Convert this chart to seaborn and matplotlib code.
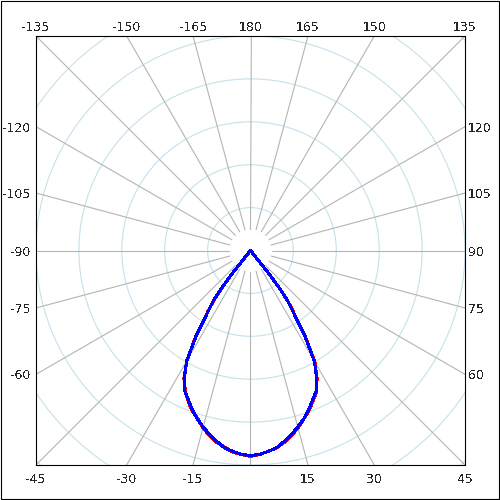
import numpy as np
import pandas as pd
import matplotlib
matplotlib.use("Agg")
import matplotlib.pyplot as plt
from matplotlib.patches import Circle, Rectangle
import seaborn as sns

# gamma angles (deg) from nadir, left half negative
gamma = [-90, -40, -38.5, -37.5, -36.5, -35, -32.5, -30, -27.5, -25, -22.5, -20, -17.5,
         -15, -12.5, -10, -7.5, -5, -2.5, 0, 2.5, 5, 7.5, 10, 12.5, 15, 17.5, 20,
         22.5, 25, 27.5, 30, 32.5, 35, 36.5, 37.5, 38.5, 40, 90]
# intensities (one ring = 50)
c0_c180 = [0, 0, 35, 55, 71, 86, 119, 148, 168, 180, 190, 199, 205,
           214, 221, 227, 231, 236, 238, 240, 238, 235, 232, 227, 221, 214, 206, 199,
           190, 182, 168, 150, 119, 86, 73, 56, 35, 0, 0]
c90_c270 = [0, 0, 35, 56, 72, 85, 118, 149, 167, 181, 189, 198, 206,
            213, 220, 226, 232, 235, 238, 239, 238, 235, 232, 226, 220, 213, 206, 198,
            189, 181, 167, 149, 118, 85, 72, 56, 35, 0, 0]

bottom_labels = [-45, -30, -15, 15, 30, 45]
top_labels = [-135, -150, -165, 180, 165, 150, 135]
left_labels = [-120, -105, -90, -75, -60]
right_labels = [120, 105, 90, 75, 60]

ring_step = 50
n_rings = 7
spoke_step = 15
box = 250

sns.set_style("white")
plt.rcParams["font.family"] = ["DejaVu Sans"]
plt.rcParams["text.antialiased"] = False

fig = plt.figure(figsize=(5, 5), dpi=100)
ax = fig.add_axes([0.072, 0.07, 0.858, 0.858])
ax.set_xlim(-box, box)
ax.set_ylim(-box, box)

# rings
for i in range(1, n_rings + 1):
    ax.add_patch(Circle((0, 0), i * ring_step, fill=False, ec="#c4e2ea", lw=0.8))

# spokes
for a in range(-165, 181, spoke_step):
    t = np.radians(a)
    r0, r1 = ring_step / 2, 2 * box
    ax.plot([r0 * np.sin(t), r1 * np.sin(t)], [-r0 * np.cos(t), -r1 * np.cos(t)],
            color="#b4b4b4", lw=0.8, zorder=1)

# curves
g = np.radians(gamma)
df = pd.DataFrame({
    "x": np.concatenate([np.array(c0_c180) * np.sin(g), np.array(c90_c270) * np.sin(g)]),
    "y": np.concatenate([-np.array(c0_c180) * np.cos(g), -np.array(c90_c270) * np.cos(g)]),
    "plane": ["C0-C180"] * len(gamma) + ["C90-C270"] * len(gamma),
})
sns.lineplot(data=df, x="x", y="y", hue="plane", palette=["red", "blue"], sort=False,
             estimator=None, lw=1.5, legend=False, ax=ax, zorder=3, antialiased=False)

# angle labels where the spokes meet the frame
ax.set_xticks([box * np.tan(np.radians(a)) for a in bottom_labels],
              labels=[str(a) for a in bottom_labels])
top = ax.secondary_xaxis("top")
top.set_xticks([-box * np.tan(np.radians(a)) for a in top_labels],
               labels=[str(a) for a in top_labels])
ax.set_yticks([box / np.tan(np.radians(a)) for a in left_labels],
              labels=[str(a) for a in left_labels])
right = ax.secondary_yaxis("right")
right.set_yticks([-box / np.tan(np.radians(a)) for a in right_labels],
                 labels=[str(a) for a in right_labels])

ax.tick_params(axis="x", length=0, pad=6, labelsize=9)
ax.tick_params(axis="y", length=0, pad=4, labelsize=9)
top.tick_params(length=0, pad=1.5, labelsize=9)
right.tick_params(length=0, pad=2, labelsize=9)
ax.set_xlabel("")
ax.set_ylabel("")
for s in ax.spines.values():
    s.set_color("black")
    s.set_linewidth(0.8)
for s in list(top.spines.values()) + list(right.spines.values()):
    s.set_visible(False)

fig.add_artist(Rectangle((0.001, 0.003), 0.996, 0.996, transform=fig.transFigure,
                         fill=False, ec="black", lw=0.8))

fig.savefig("out.png", dpi=100)
